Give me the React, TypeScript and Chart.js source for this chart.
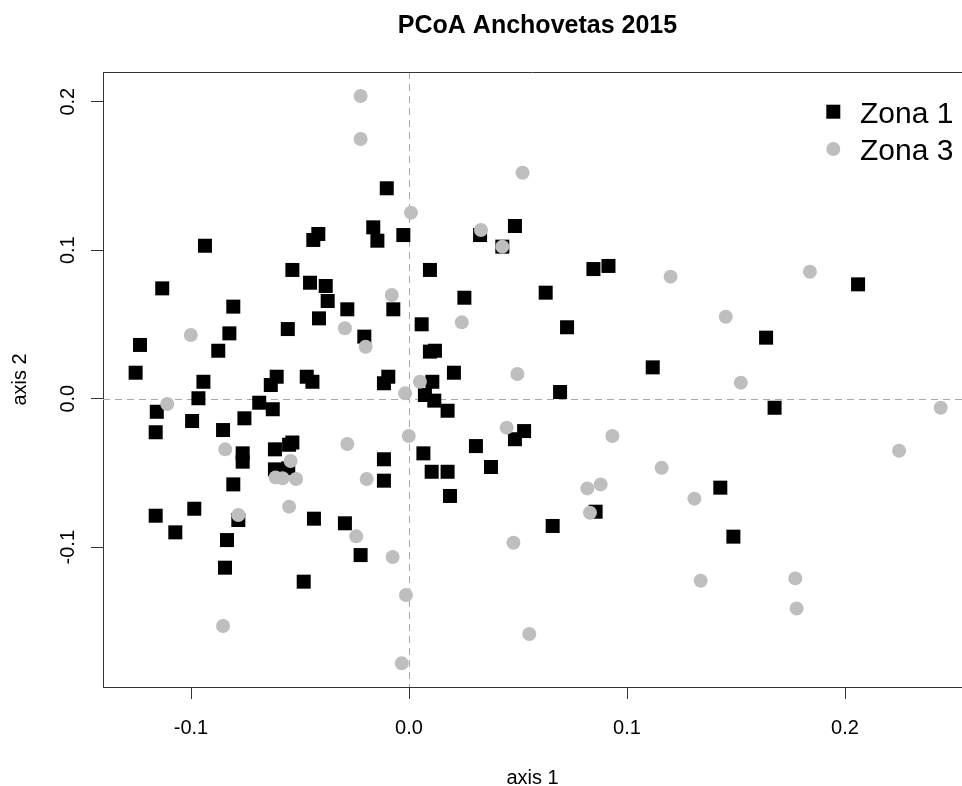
import React, { useEffect, useRef } from 'react';
import { Chart, registerables } from 'chart.js';

Chart.register(...registerables);

const chartTitle = 'PCoA Anchovetas 2015';
const xAxisTitle = 'axis 1';
const yAxisTitle = 'axis 2';
const seriesNames = ['Zona 1', 'Zona 3'];

const zona1X = [
  -0.0102, -0.0164, -0.0145, -0.0026, -0.0416, -0.0439, -0.0936, -0.0535, -0.1132, -0.0454,
  -0.0382, -0.0373, -0.0806, -0.0283, -0.0072, -0.0413, -0.0556, -0.0824, -0.0205, -0.1234,
  -0.0875, -0.1254, -0.0943, -0.0607, -0.0634, -0.0469, -0.0443, -0.0095, -0.0115, -0.0966,
  -0.1157, -0.0687, -0.0625, -0.0995, -0.0755, -0.1162, -0.0853, -0.0763, -0.0763, -0.0615,
  -0.0535, -0.0550, -0.0615, -0.0554, -0.0115, -0.0115, -0.0806, -0.1162, -0.0985, -0.0783,
  -0.0436, -0.0294, -0.1072, -0.0835, -0.0222, -0.0844, -0.0483, 0.0073, 0.0116, 0.0177,
  0.0693, 0.0528, 0.0486, 0.0066, 0.0307, 0.0104, 0.0177, 0.0376, 0.0188, 0.0856,
  0.0659, 0.1677, 0.1428, 0.1488, 0.2060, 0.1638, 0.1118, 0.0326, 0.0486, 0.0428,
  0.0096, 0.0846, 0.0915, 0.0254, 0.0627, 0.0058, 0.0725, 0.0096, 0.0119, 0.0206,
  0.0107,
];
const zona1Y = [
  0.1417, 0.1154, 0.1064, 0.1102, 0.1109, 0.1069, 0.1030, 0.0867, 0.0743, 0.0781,
  0.0759, 0.0658, 0.0620, 0.0602, 0.0602, 0.0541, 0.0469, 0.0440, 0.0418, 0.0362,
  0.0323, 0.0175, 0.0114, 0.0148, 0.0092, 0.0148, 0.0114, 0.0148, 0.0104, 0.0003,
  -0.0088, -0.0027, -0.0071, -0.0150, -0.0132, -0.0226, -0.0211, -0.0368, -0.0424, -0.0341,
  -0.0295, -0.0310, -0.0476, -0.0469, -0.0408, -0.0552, -0.0577, -0.0788, -0.0741, -0.0817,
  -0.0808, -0.0839, -0.0900, -0.0952, -0.1053, -0.1138, -0.1232, 0.0025, -0.0013, -0.0081,
  0.0045, -0.0218, -0.0273, -0.0368, -0.0319, -0.0492, -0.0492, -0.0460, -0.0655, -0.0761,
  -0.0857, -0.0061, -0.0599, -0.0929, 0.0770, 0.0411, 0.0211, 0.1102, 0.1163, 0.1024,
  0.0867, 0.0873, 0.0894, 0.0680, 0.0714, 0.0501, 0.0481, 0.0317, 0.0323, 0.0175,
  0.0114,
];

const zona3X = [
  -0.0222, -0.0222, -0.0079, -0.0294, -0.0199, -0.1001, -0.1109, -0.0283, -0.0843, -0.0543,
  -0.0612, -0.0580, -0.0518, -0.0194, -0.0550, -0.0783, -0.0242, -0.0075, -0.0853, -0.0033,
  0.0050, -0.0018, 0.0448, 0.0933, -0.0001, 0.1159, 0.0818, 0.0879, 0.0830, 0.0479,
  -0.0014, 0.0552, 0.1522, 0.2439, 0.2248, 0.1309, 0.1338, 0.1772, 0.1778, 0.1200,
  0.1839, 0.1453, 0.0521, 0.0009, 0.0330, 0.0428, 0.0242, 0.0497,
];
const zona3Y = [
  0.2038, 0.1749, 0.0698, 0.0474, 0.0350, 0.0429, -0.0036, -0.0305, -0.0341, -0.0420,
  -0.0530, -0.0536, -0.0541, -0.0541, -0.0727, -0.0783, -0.0927, -0.1066, -0.1531, -0.1782,
  0.0114, 0.0036, -0.0195, -0.0251, -0.0251, -0.0465, -0.0604, -0.0577, -0.0768, -0.0970,
  -0.1322, -0.1585, 0.0108, -0.0061, -0.0350, -0.0673, -0.1226, -0.1210, -0.1412, 0.0822,
  0.0855, 0.0552, 0.1522, 0.1253, 0.1136, 0.1024, 0.0514, 0.0166,
];

const xTickValues = [-0.1, 0.0, 0.1, 0.2];
const xTickLabels = ['-0.1', '0.0', '0.1', '0.2'];
const yTickValues = [-0.1, 0.0, 0.1, 0.2];
const yTickLabels = ['-0.1', '0.0', '0.1', '0.2'];

const FONT = "'Liberation Sans', Arial, Helvetica, sans-serif";
const ZONA1_COLOR = '#000000';
const ZONA3_COLOR = '#bebebe';
const AXIS_COLOR = '#333333';

const decorPlugin = {
  id: 'decor',
  beforeDatasetsDraw(chart: any) {
    const { ctx, chartArea: a, scales } = chart;
    const x0 = Math.round(scales.x.getPixelForValue(0)) + 0.5;
    const y0 = Math.round(scales.y.getPixelForValue(0)) + 0.5;
    ctx.save();
    ctx.strokeStyle = '#a8a8a8';
    ctx.lineWidth = 1;
    ctx.setLineDash([7, 5]);
    ctx.beginPath();
    ctx.moveTo(x0, a.top);
    ctx.lineTo(x0, a.bottom);
    ctx.moveTo(a.left, y0);
    ctx.lineTo(a.right, y0);
    ctx.stroke();
    ctx.setLineDash([]);
    ctx.strokeStyle = AXIS_COLOR;
    ctx.beginPath();
    ctx.moveTo(a.left, Math.round(a.top) + 0.5);
    ctx.lineTo(a.right, Math.round(a.top) + 0.5);
    ctx.stroke();
    ctx.restore();
  },
  afterDraw(chart: any) {
    const { ctx } = chart;
    ctx.save();
    ctx.fillStyle = '#000';
    ctx.font = `bold 25px ${FONT}`;
    ctx.textAlign = 'center';
    ctx.textBaseline = 'alphabetic';
    ctx.fillText(chartTitle, 537.5, 32.5);
    ctx.font = `30px ${FONT}`;
    ctx.textAlign = 'left';
    ctx.fillStyle = ZONA1_COLOR;
    ctx.fillRect(833.3 - 7, 111.7 - 7, 14, 14);
    ctx.fillStyle = ZONA3_COLOR;
    ctx.beginPath();
    ctx.arc(833.3, 149, 7, 0, Math.PI * 2);
    ctx.fill();
    ctx.fillStyle = '#000';
    ctx.fillText(seriesNames[0], 860, 123);
    ctx.fillText(seriesNames[1], 860, 159.5);
    ctx.restore();
  },
};

export default function App() {
  const canvasRef = useRef<HTMLCanvasElement | null>(null);

  useEffect(() => {
    document.body.style.margin = '0';
    const canvas = canvasRef.current;
    if (!canvas) return;
    const chart = new Chart(canvas, {
      type: 'scatter',
      data: {
        datasets: [
          {
            label: seriesNames[0],
            data: zona1X.map((x, i) => ({ x, y: zona1Y[i] })),
            pointStyle: 'rect',
            pointRadius: 9.9,
            backgroundColor: ZONA1_COLOR,
            borderWidth: 0,
            order: 2,
          },
          {
            label: seriesNames[1],
            data: zona3X.map((x, i) => ({ x, y: zona3Y[i] })),
            pointStyle: 'circle',
            pointRadius: 7,
            backgroundColor: ZONA3_COLOR,
            borderWidth: 0,
            order: 1,
          },
        ],
      },
      options: {
        responsive: false,
        animation: false,
        devicePixelRatio: 1,
        events: [],
        layout: { autoPadding: false, padding: { top: 72, right: 0, bottom: 0, left: 0 } },
        plugins: {
          legend: { display: false },
          tooltip: { enabled: false },
          title: { display: false },
        },
        scales: {
          x: {
            type: 'linear',
            position: 'bottom',
            min: -0.14037,
            max: 0.25367,
            afterFit: (s: any) => {
              s.height = 99;
              s.paddingLeft = 0;
              s.paddingRight = 0;
            },
            afterBuildTicks: (s: any) => { s.ticks = xTickValues.map((v) => ({ value: v })); },
            grid: { display: true, drawOnChartArea: false, drawTicks: true, tickLength: 12, tickColor: AXIS_COLOR, tickWidth: 1 },
            border: { display: true, color: AXIS_COLOR, width: 1 },
            ticks: {
              autoSkip: false,
              maxRotation: 0,
              minRotation: 0,
              padding: 17,
              color: '#000',
              font: { family: FONT, size: 20 },
              callback: (_v: any, i: number) => xTickLabels[i],
            },
            title: {
              display: true,
              text: xAxisTitle,
              color: '#000',
              font: { family: FONT, size: 20, lineHeight: 0.8 },
              padding: 0,
            },
          },
          y: {
            type: 'linear',
            position: 'left',
            min: -0.19414,
            max: 0.22,
            afterFit: (s: any) => {
              s.width = 103;
              s.paddingTop = 0;
              s.paddingBottom = 0;
            },
            afterBuildTicks: (s: any) => { s.ticks = yTickValues.map((v) => ({ value: v })); },
            grid: { display: true, drawOnChartArea: false, drawTicks: true, tickLength: 12, tickColor: AXIS_COLOR, tickWidth: 1 },
            border: { display: true, color: AXIS_COLOR, width: 1 },
            ticks: {
              autoSkip: false,
              minRotation: 90,
              maxRotation: 90,
              crossAlign: 'center',
              padding: 5.5,
              color: '#000',
              font: { family: FONT, size: 20 },
              callback: (_v: any, i: number) => yTickLabels[i],
            },
            title: {
              display: true,
              text: yAxisTitle,
              color: '#000',
              font: { family: FONT, size: 20, lineHeight: 1.2 },
              padding: { top: 8.5, bottom: 0 },
            },
          },
        },
      } as any,
      plugins: [decorPlugin],
    });
    return () => chart.destroy();
  }, []);

  return (
    <div style={{ position: 'absolute', left: 0, top: 0, width: 962, height: 786, background: '#fff' }}>
      <canvas ref={canvasRef} width={962} height={786} style={{ display: 'block', width: 962, height: 786 }} />
    </div>
  );
}
